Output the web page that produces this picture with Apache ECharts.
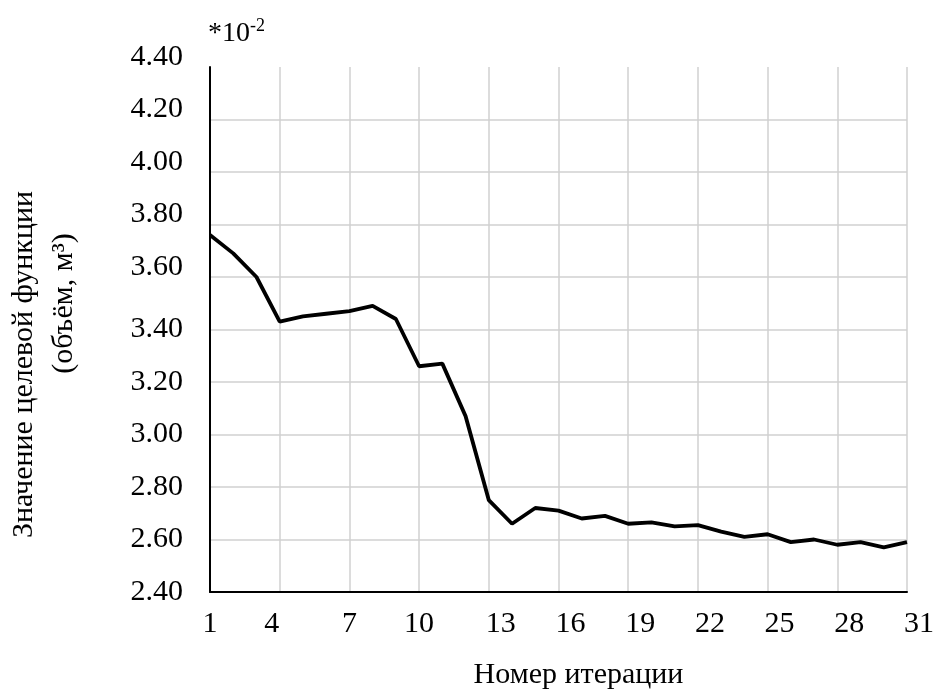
<!DOCTYPE html>
<html>
<head>
<meta charset="utf-8">
<script src="https://cdn.jsdelivr.net/npm/echarts@6/dist/echarts.min.js"></script>
<style>html,body{margin:0;padding:0;background:#fff;}#c{width:936px;height:698px;}</style>
</head>
<body>
<div id="c"></div>
<script>
const iterations = [1,2,3,4,5,6,7,8,9,10,11,12,13,14,15,16,17,18,19,20,21,22,23,24,25,26,27,28,29,30,31];
const objectiveValues = [3.76,3.69,3.60,3.43,3.45,3.46,3.47,3.49,3.44,3.26,3.27,3.07,2.75,2.66,2.72,2.71,2.68,2.69,2.66,2.665,2.65,2.655,2.63,2.61,2.62,2.59,2.60,2.58,2.59,2.57,2.59];
const yMin = 2.40, yMax = 4.40, yStep = 0.20;
const xTitle = 'Номер итерации';
const yTitleLine1 = 'Значение целевой функции';
const yTitleLine2 = '(объём, м³)';

const font = 'Liberation Serif';
const fs = 30;
const chart = echarts.init(document.getElementById('c'), null, {renderer: 'canvas'});
const nLines = Math.round((yMax - yMin) / yStep) + 1;
const splitColors = [];
for (let i = 0; i < nLines; i++) splitColors.push(i === nLines - 1 ? 'rgba(0,0,0,0)' : '#d0d0d0');

const txt = {fontFamily: font, fontSize: fs, color: '#000', fontWeight: 'normal'};

chart.setOption({
  animation: false,
  backgroundColor: '#fff',
  title: {
    text: '{a|*10}{s|-2}',
    left: 203, top: 12,
    textStyle: {
      fontWeight: 'normal',
      rich: {
        a: {fontFamily: font, fontSize: 28, color: '#000', fontWeight: 'normal'},
        s: {fontFamily: font, fontSize: 18, color: '#000', fontWeight: 'normal', padding: [0,0,16,0]}
      }
    }
  },
  grid: {left: 210, right: 29, top: 67, bottom: 106, containLabel: false, outerBoundsMode: 'none'},
  xAxis: {
    type: 'category',
    data: iterations,
    boundaryGap: false,
    name: xTitle,
    nameLocation: 'middle',
    nameGap: 68,
    nameTextStyle: Object.assign({}, txt, {padding: [0,0,0,40]}),
    axisLine: {show: true, lineStyle: {color: '#000', width: 2}},
    axisTick: {show: false},
    axisLabel: Object.assign({}, txt, {
      interval: 2, margin: 17,
      formatter: v => (+v === 4 ? '{l|' + v + '}' : (+v >= 13 ? '{r|' + v + '}' : '{n|' + v + '}')),
      rich: {
        n: Object.assign({}, txt),
        l: Object.assign({}, txt, {padding: [0,16,0,0]}),
        r: Object.assign({}, txt, {padding: [0,0,0,24]})
      }
    }),
    splitLine: {show: true, interval: 2, lineStyle: {color: '#d0d0d0', width: 1.5}}
  },
  yAxis: {
    type: 'value',
    min: yMin, max: yMax, interval: yStep,
    name: '{l1|' + yTitleLine1 + '}\n{l2|' + yTitleLine2 + '}',
    nameLocation: 'middle',
    nameRotate: 90,
    nameGap: 126,
    nameTextStyle: Object.assign({}, txt, {
      lineHeight: 40,
      rich: {
        l1: Object.assign({}, txt, {lineHeight: 40, padding: [0,70,0,0]}),
        l2: Object.assign({}, txt, {lineHeight: 40, padding: [0,0,0,52]})
      }
    }),
    axisLine: {show: true, lineStyle: {color: '#000', width: 2}},
    axisTick: {show: false},
    axisLabel: Object.assign({}, txt, {
      margin: 27,
      formatter: v => (v >= 3.59 ? '{u|' + v.toFixed(2) + '}' : '{n|' + v.toFixed(2) + '}'),
      rich: {
        n: Object.assign({}, txt),
        u: Object.assign({}, txt, {padding: [0,0,20,0]})
      }
    }),
    splitLine: {show: true, lineStyle: {color: splitColors, width: 1.5}}
  },
  series: [{
    type: 'line',
    data: objectiveValues,
    showSymbol: false,
    symbol: 'none',
    lineStyle: {color: '#000', width: 3.8},
    z: 5
  }]
});
</script>
</body>
</html>
